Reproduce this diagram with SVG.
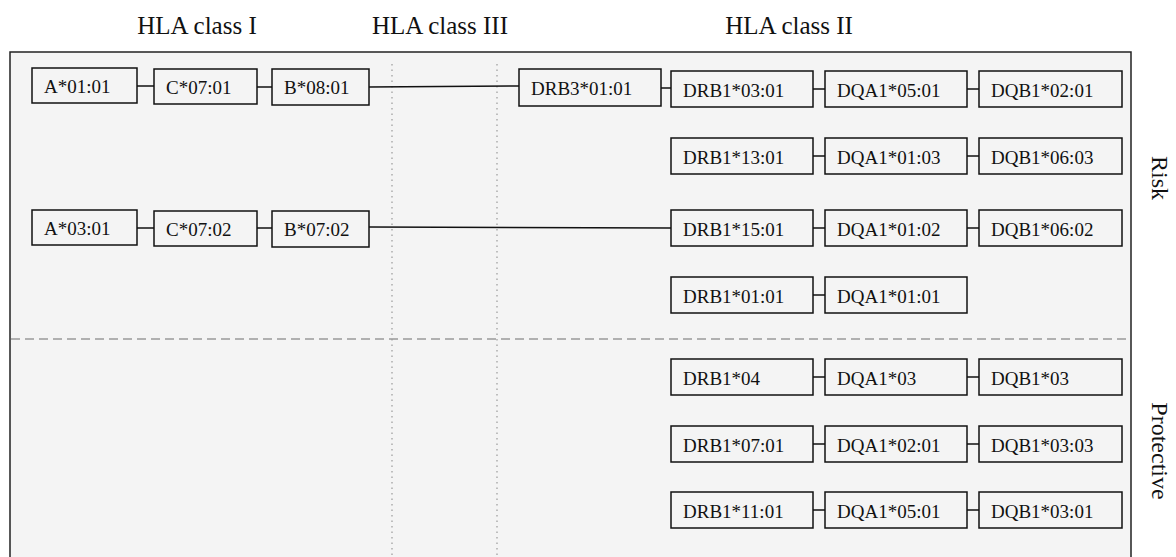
<svg xmlns="http://www.w3.org/2000/svg" width="1176" height="557" viewBox="0 0 1176 557">
<style>
.t{font-family:"Liberation Serif","Times New Roman",serif;fill:#111}
.title{font-size:25px;text-anchor:middle}
.lbl{font-size:19px}
.side{font-size:24px;text-anchor:middle}
.box rect{fill:#f4f4f4;stroke:#111;stroke-width:1.5}
.c{stroke:#111;stroke-width:1.5;fill:none}
.dot{stroke:#999;stroke-width:1.2;stroke-dasharray:1.5 4}
.dash{stroke:#999;stroke-width:1.5;stroke-dasharray:9 5}
</style>
<rect x="0" y="0" width="1176" height="557" fill="#fff"/>
<rect id="panel" x="10" y="52" width="1121" height="520" fill="#f4f4f4" stroke="#222" stroke-width="1.5"/>
<g id="guides">
<line class="dot" x1="392" y1="64" x2="392" y2="557"/>
<line class="dot" x1="497" y1="64" x2="497" y2="557"/>
<line class="dash" x1="11" y1="339" x2="1130" y2="339"/>
</g>
<g id="titles" class="t">
<text class="t title" x="197" y="34">HLA class I</text>
<text class="t title" x="440" y="34">HLA class III</text>
<text class="t title" x="789" y="34">HLA class II</text>
<text class="t side" transform="translate(1152,178) rotate(90)">Risk</text>
<text class="t side" transform="translate(1152,451) rotate(90)">Protective</text>
</g>
<g id="connectors">
<line class="c" x1="137" y1="86" x2="154" y2="86"/>
<line class="c" x1="257" y1="87" x2="272" y2="87"/>
<line class="c" x1="369" y1="87" x2="519" y2="86"/>
<line class="c" x1="661" y1="88" x2="671" y2="88"/>
<line class="c" x1="813" y1="89" x2="825" y2="89"/>
<line class="c" x1="967" y1="89" x2="979" y2="89"/>
<line class="c" x1="813" y1="156" x2="825" y2="156"/>
<line class="c" x1="967" y1="156" x2="979" y2="156"/>
<line class="c" x1="137" y1="228" x2="154" y2="228"/>
<line class="c" x1="257" y1="228" x2="272" y2="228"/>
<line class="c" x1="369" y1="227" x2="671" y2="228"/>
<line class="c" x1="813" y1="228" x2="825" y2="228"/>
<line class="c" x1="967" y1="228" x2="979" y2="228"/>
<line class="c" x1="813" y1="295" x2="825" y2="295"/>
<line class="c" x1="813" y1="377" x2="825" y2="377"/>
<line class="c" x1="967" y1="377" x2="979" y2="377"/>
<line class="c" x1="813" y1="444" x2="825" y2="444"/>
<line class="c" x1="967" y1="444" x2="979" y2="444"/>
<line class="c" x1="813" y1="510" x2="825" y2="510"/>
<line class="c" x1="967" y1="510" x2="979" y2="510"/>
</g>
<g id="A0101" class="box"><rect x="32" y="68" width="105" height="35"/><text class="t lbl" x="44" y="93">A*01:01</text></g>
<g id="C0701" class="box"><rect x="154" y="69" width="103" height="35"/><text class="t lbl" x="166" y="94">C*07:01</text></g>
<g id="B0801" class="box"><rect x="272" y="69" width="97" height="36"/><text class="t lbl" x="284" y="94">B*08:01</text></g>
<g id="DRB30101" class="box"><rect x="519" y="69" width="142" height="37"/><text class="t lbl" x="531" y="95">DRB3*01:01</text></g>
<g id="DRB10301" class="box"><rect x="671" y="71" width="142" height="36"/><text class="t lbl" x="683" y="97">DRB1*03:01</text></g>
<g id="DQA10501a" class="box"><rect x="825" y="71" width="142" height="36"/><text class="t lbl" x="837" y="97">DQA1*05:01</text></g>
<g id="DQB10201" class="box"><rect x="979" y="71" width="143" height="36"/><text class="t lbl" x="991" y="97">DQB1*02:01</text></g>
<g id="DRB11301" class="box"><rect x="671" y="138" width="142" height="36"/><text class="t lbl" x="683" y="164">DRB1*13:01</text></g>
<g id="DQA10103" class="box"><rect x="825" y="138" width="142" height="36"/><text class="t lbl" x="837" y="164">DQA1*01:03</text></g>
<g id="DQB10603" class="box"><rect x="979" y="138" width="143" height="36"/><text class="t lbl" x="991" y="164">DQB1*06:03</text></g>
<g id="A0301" class="box"><rect x="32" y="210" width="105" height="35"/><text class="t lbl" x="44" y="235">A*03:01</text></g>
<g id="C0702" class="box"><rect x="154" y="211" width="103" height="35"/><text class="t lbl" x="166" y="236">C*07:02</text></g>
<g id="B0702" class="box"><rect x="272" y="211" width="97" height="36"/><text class="t lbl" x="284" y="236">B*07:02</text></g>
<g id="DRB11501" class="box"><rect x="671" y="210" width="142" height="36"/><text class="t lbl" x="683" y="236">DRB1*15:01</text></g>
<g id="DQA10102" class="box"><rect x="825" y="210" width="142" height="36"/><text class="t lbl" x="837" y="236">DQA1*01:02</text></g>
<g id="DQB10602" class="box"><rect x="979" y="210" width="143" height="36"/><text class="t lbl" x="991" y="236">DQB1*06:02</text></g>
<g id="DRB10101" class="box"><rect x="671" y="277" width="142" height="36"/><text class="t lbl" x="683" y="303">DRB1*01:01</text></g>
<g id="DQA10101" class="box"><rect x="825" y="277" width="142" height="36"/><text class="t lbl" x="837" y="303">DQA1*01:01</text></g>
<g id="DRB104" class="box"><rect x="671" y="359" width="142" height="36"/><text class="t lbl" x="683" y="385">DRB1*04</text></g>
<g id="DQA103" class="box"><rect x="825" y="359" width="142" height="36"/><text class="t lbl" x="837" y="385">DQA1*03</text></g>
<g id="DQB103" class="box"><rect x="979" y="359" width="143" height="36"/><text class="t lbl" x="991" y="385">DQB1*03</text></g>
<g id="DRB10701" class="box"><rect x="671" y="426" width="142" height="36"/><text class="t lbl" x="683" y="452">DRB1*07:01</text></g>
<g id="DQA10201" class="box"><rect x="825" y="426" width="142" height="36"/><text class="t lbl" x="837" y="452">DQA1*02:01</text></g>
<g id="DQB10303" class="box"><rect x="979" y="426" width="143" height="36"/><text class="t lbl" x="991" y="452">DQB1*03:03</text></g>
<g id="DRB11101" class="box"><rect x="671" y="492" width="142" height="36"/><text class="t lbl" x="683" y="518">DRB1*11:01</text></g>
<g id="DQA10501b" class="box"><rect x="825" y="492" width="142" height="36"/><text class="t lbl" x="837" y="518">DQA1*05:01</text></g>
<g id="DQB10301" class="box"><rect x="979" y="492" width="143" height="36"/><text class="t lbl" x="991" y="518">DQB1*03:01</text></g>
</svg>
